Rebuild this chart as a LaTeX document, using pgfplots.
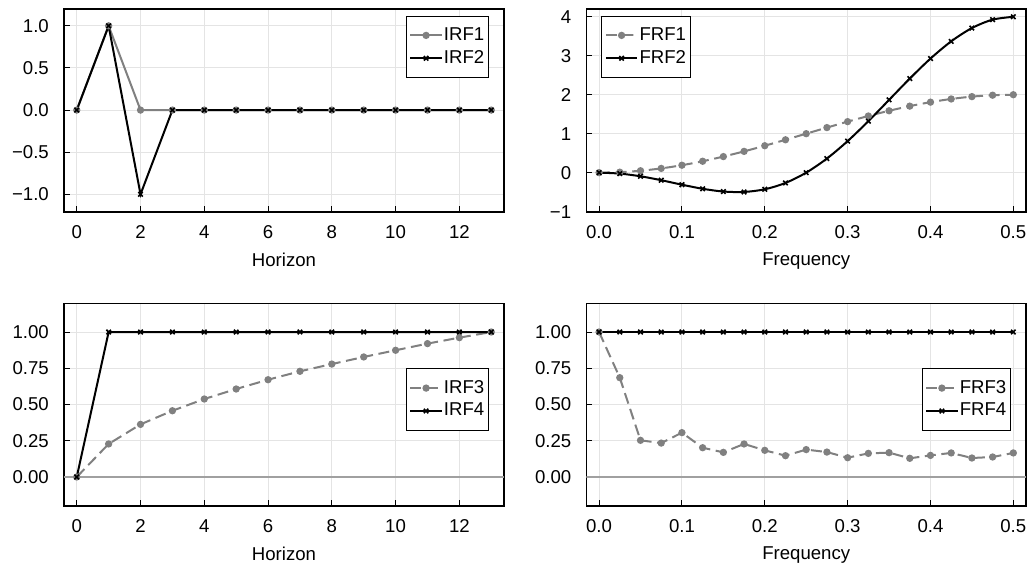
\documentclass[border=0pt]{standalone}
\usepackage{fontspec}
\setmainfont{Liberation Sans}
\usepackage{pgfplots}
\pgfplotsset{compat=1.18}
\definecolor{sg}{RGB}{128,128,128}
\definecolor{gridc}{RGB}{228,228,228}
\definecolor{zeroc}{RGB}{160,160,160}
\pgfplotsset{
  myax/.style={
    scale only axis, anchor=south west,
    font=\fontsize{9.3}{11.2}\selectfont,
    axis line style={black, line width=0.6pt},
    tick pos=left, tick align=inside, major tick length=3pt,
    every tick/.style={black, line width=0.5pt},
    grid=major, grid style={gridc, line width=0.5pt},
    /pgf/number format/assume math mode=true,
    yticklabel style={xshift=-4.3pt},
    xticklabel style={yshift=-3.3pt},
    xlabel style={at={(axis description cs:0.5,0)}, anchor=north, yshift=-17.1pt},
    legend cell align=left,
    legend style={draw=black, line width=0.5pt, fill=white,
      font=\fontsize{9.3}{11.2}\selectfont,
      inner xsep=1.5pt, inner ysep=4.2pt, row sep=0.6pt, column sep=0pt,
      nodes={inner xsep=0.6pt, inner ysep=1.5pt}},
    legend image code/.code={\draw[mark repeat=2,mark phase=2,##1] plot coordinates {(0pt,0pt)(7.85pt,0pt)(15.7pt,0pt)};},
  },
  gline/.style={sg, line width=1pt, mark=*, mark size=1.3pt, mark options={solid, fill=sg, draw=sg}},
  bline/.style={black, line width=1pt, mark=x, mark size=1.6pt, mark options={solid, line width=0.8pt}},
  dsh/.style={dash pattern=on 5.5pt off 2.8pt},
}
\begin{document}
\fontsize{9.3}{11.2}\selectfont
\begin{tikzpicture}
\path[use as bounding box] (0,0) rectangle (514.5pt,282pt);

% Top left: IRF1, IRF2
\begin{axis}[myax, at={(32pt,176pt)}, width=220pt, height=101.5pt,
  xmin=-0.4, xmax=13.4, ymin=-1.21, ymax=1.2,
  xtick={0,2,4,6,8,10,12}, xticklabels={0,2,4,6,8,10,12},
  ytick={-1,-0.5,0,0.5,1}, yticklabels={−1.0,−0.5,0.0,0.5,1.0},
  xlabel={Horizon},
  legend style={at={(axis description cs:1,1)}, anchor=north east, xshift=-7.5pt, yshift=-3.35pt}]
\addplot[gline] coordinates {(0,0)(1,1)(2,0)(3,0)(4,0)(5,0)(6,0)(7,0)(8,0)(9,0)(10,0)(11,0)(12,0)(13,0)};
\addlegendentry{IRF1}
\addplot[bline] coordinates {(0,0)(1,1)(2,-1)(3,0)(4,0)(5,0)(6,0)(7,0)(8,0)(9,0)(10,0)(11,0)(12,0)(13,0)};
\addlegendentry{IRF2}
\end{axis}

% Top right: FRF1, FRF2
\begin{axis}[myax, at={(293.2pt,176pt)}, width=219.8pt, height=101.5pt,
  xmin=-0.0153, xmax=0.5153, ymin=-1.01, ymax=4.2,
  xtick={0,0.1,0.2,0.3,0.4,0.5}, xticklabels={0.0,0.1,0.2,0.3,0.4,0.5},
  ytick={-1,0,1,2,3,4}, yticklabels={−1,0,1,2,3,4},
  xlabel={Frequency},
  legend style={at={(axis description cs:0,1)}, anchor=north west, xshift=7.5pt, yshift=-3.35pt}]
\addplot[gline, dsh, smooth] coordinates {
(0,0)(0.025,0.01231)(0.05,0.04894)(0.075,0.10899)(0.1,0.19098)(0.125,0.29289)(0.15,0.41221)
(0.175,0.54601)(0.2,0.69098)(0.225,0.84357)(0.25,1)(0.275,1.15643)(0.3,1.30902)(0.325,1.45399)
(0.35,1.58779)(0.375,1.70711)(0.4,1.80902)(0.425,1.89101)(0.45,1.95106)(0.475,1.98769)(0.5,2)};
\addlegendentry{FRF1}
\addplot[bline, smooth] coordinates {
(0,0)(0.025,-0.02432)(0.05,-0.09309)(0.075,-0.19422)(0.1,-0.30902)(0.125,-0.41421)(0.15,-0.48459)
(0.175,-0.49576)(0.2,-0.42705)(0.225,-0.26392)(0.25,0)(0.275,0.36180)(0.3,0.80902)(0.325,1.32019)
(0.35,1.86658)(0.375,2.41421)(0.4,2.92705)(0.425,3.36982)(0.45,3.71113)(0.475,3.92644)(0.5,4)};
\addlegendentry{FRF2}
\end{axis}

% Bottom left: IRF3, IRF4
\begin{axis}[myax, at={(32pt,29pt)}, width=220pt, height=101.35pt,
  xmin=-0.4, xmax=13.4, ymin=-0.2, ymax=1.198,
  xtick={0,2,4,6,8,10,12}, xticklabels={0,2,4,6,8,10,12},
  ytick={0,0.25,0.5,0.75,1}, yticklabels={0.00,0.25,0.50,0.75,1.00},
  xlabel={Horizon},
  legend style={at={(axis description cs:1,1)}, anchor=north east, xshift=-7.5pt, yshift=-32.5pt}]
\addplot[zeroc, line width=0.6pt, forget plot] coordinates {(-0.4,0)(13.4,0)};
\addplot[gline, dsh] coordinates {(0,0)(1,0.228)(2,0.363)(3,0.457)(4,0.538)(5,0.607)(6,0.671)(7,0.729)(8,0.779)(9,0.828)(10,0.874)(11,0.920)(12,0.961)(13,1.0)};
\addlegendentry{IRF3}
\addplot[bline] coordinates {(0,0)(1,1)(2,1)(3,1)(4,1)(5,1)(6,1)(7,1)(8,1)(9,1)(10,1)(11,1)(12,1)(13,1)};
\addlegendentry{IRF4}
\end{axis}

% Bottom right: FRF3, FRF4
\begin{axis}[myax, at={(293.2pt,29pt)}, width=219.8pt, height=101.35pt,
  xmin=-0.0153, xmax=0.5153, ymin=-0.2, ymax=1.198,
  xtick={0,0.1,0.2,0.3,0.4,0.5}, xticklabels={0.0,0.1,0.2,0.3,0.4,0.5},
  ytick={0,0.25,0.5,0.75,1}, yticklabels={0.00,0.25,0.50,0.75,1.00},
  xlabel={Frequency},
  legend style={at={(axis description cs:1,1)}, anchor=north east, xshift=-7.5pt, yshift=-32.5pt}]
\addplot[zeroc, line width=0.6pt, forget plot] coordinates {(-0.0153,0)(0.5153,0)};
\addplot[gline, dsh] coordinates {
(0,1.0)(0.025,0.685)(0.05,0.253)(0.075,0.234)(0.1,0.306)(0.125,0.202)(0.15,0.170)
(0.175,0.228)(0.2,0.184)(0.225,0.147)(0.25,0.189)(0.275,0.172)(0.3,0.133)(0.325,0.163)
(0.35,0.168)(0.375,0.129)(0.4,0.149)(0.425,0.166)(0.45,0.131)(0.475,0.138)(0.5,0.166)};
\addlegendentry{FRF3}
\addplot[bline] coordinates {
(0,1)(0.025,1)(0.05,1)(0.075,1)(0.1,1)(0.125,1)(0.15,1)(0.175,1)(0.2,1)(0.225,1)(0.25,1)
(0.275,1)(0.3,1)(0.325,1)(0.35,1)(0.375,1)(0.4,1)(0.425,1)(0.45,1)(0.475,1)(0.5,1)};
\addlegendentry{FRF4}
\end{axis}
\end{tikzpicture}
\end{document}
